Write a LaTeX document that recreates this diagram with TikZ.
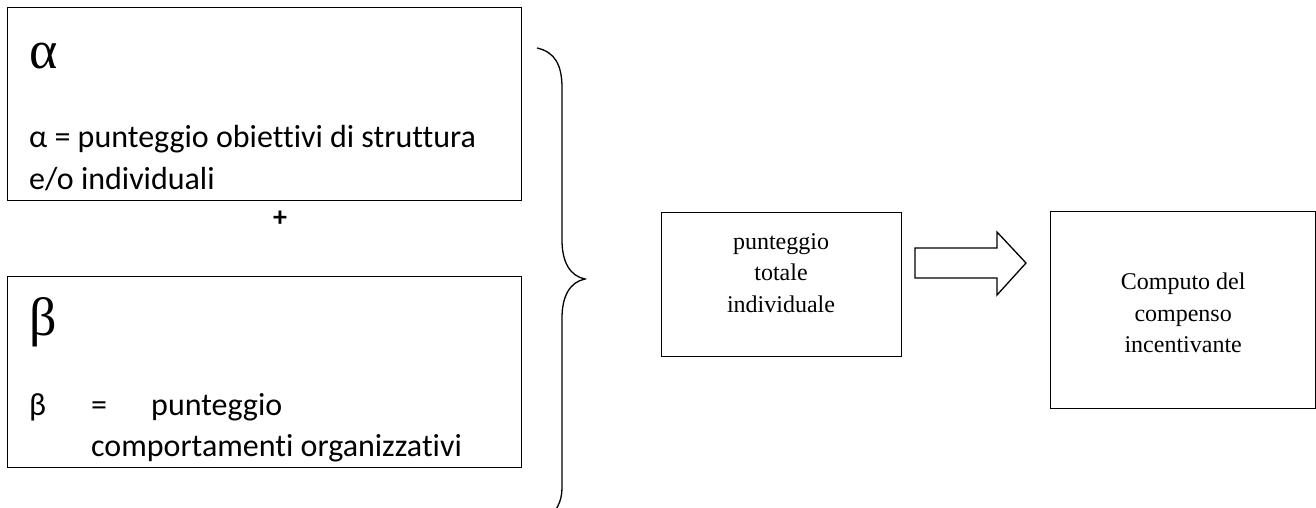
\documentclass[tikz,border=0pt]{standalone}
\usepackage{fontspec}
\setmainfont{Liberation Serif}
\newfontfamily\calibri[Ligatures=NoCommon]{Carlito}
\usetikzlibrary{positioning}

\tikzset{
	box/.style={draw, line width=1.3pt, inner sep=0pt, anchor=north west},
	serif text/.style={font=\fontsize{24}{31.5}\selectfont, align=center, inner sep=0pt},
	calibri text/.style={font=\calibri\fontsize{32}{42}\selectfont, anchor=base west, inner sep=0pt},
	greek/.style={font=\fontsize{54}{54}\selectfont, anchor=base west, inner sep=0pt},
}

\begin{document}
\begin{tikzpicture}[x=1pt, y=-1pt]

\useasboundingbox (0,0) rectangle (1316,507);
\clip (0,0) rectangle (1316,507);

% left boxes
\node[box, minimum width=514pt, minimum height=193pt] (alpha box) at (7,7) {};
\node[box, minimum width=514pt, minimum height=191pt] (beta box) at (7,276) {};

\node[greek] (alpha big) at (29,68) {α};
\node[calibri text] (alpha def) at (29,147) {α = punteggio obiettivi di struttura};
\node[calibri text] (alpha def2) at ([yshift=-42pt]alpha def.base west) {e/o individuali};

\node[font=\calibri\bfseries\fontsize{28}{28}\selectfont, inner sep=0pt] (plus) at (280,219) {+};

\node[greek] (beta big) at (29,335) {β};
\node[calibri text] (beta def) at (29,415) {β};
\node[calibri text] (beta eq) at (91,415) {=};
\node[calibri text] (beta def2) at (151,415) {punteggio};
\node[calibri text] (beta def3) at ([yshift=-41pt]beta eq.base west) {comportamenti organizzativi};

% brace
\draw[line width=1.3pt] (537,48) .. controls (555,52) and (562,65) .. (562,88) -- (562,240)
	.. controls (562,262) and (570,276) .. (585,279)
	.. controls (570,282) and (562,296) .. (562,318) -- (562,488)
	.. controls (562,502) and (556,512) .. (545,522);

% right boxes
\node[box, minimum width=240pt, minimum height=144pt] (total box) at (661,212) {};
\node[box, minimum width=265pt, minimum height=197pt] (pay box) at (1050,211) {};

\node[serif text] (total text) at (781,273) {punteggio\\totale\\individuale};
\node[serif text] (pay text) at ([yshift=-3pt]pay box.center) {Computo del\\compenso\\incentivante};

% block arrow
\draw[line width=1.3pt] (915,248) -- (997,248) -- (997,232) -- (1026,263)
	-- (997,295) -- (997,278) -- (915,278) -- cycle;

\end{tikzpicture}
\end{document}
